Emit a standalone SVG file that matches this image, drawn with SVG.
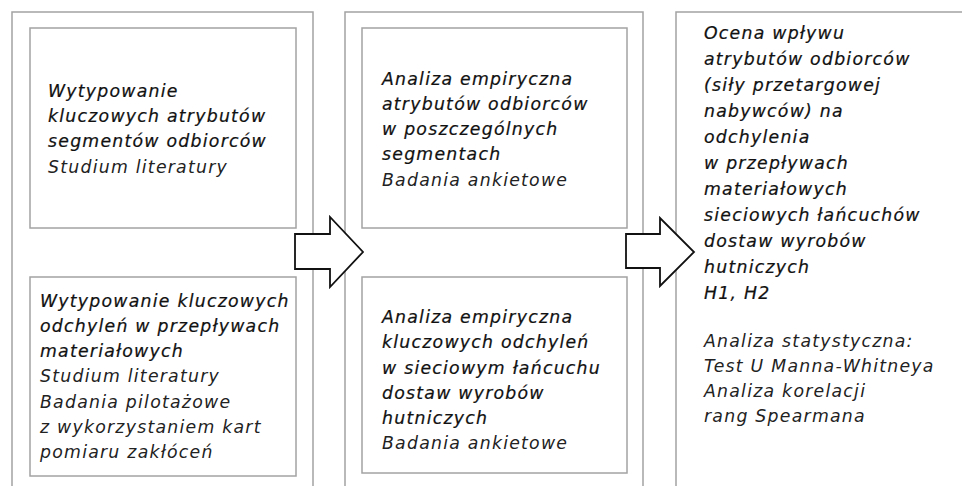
<svg xmlns="http://www.w3.org/2000/svg" width="962" height="486" viewBox="0 0 962 486">
<style>
.frame{fill:none;stroke:#a3a3a3;stroke-width:1.5}
.box{fill:#fff;stroke:#a3a3a3;stroke-width:1.5}
.arrow{fill:#fff;stroke:#111;stroke-width:1.8;stroke-linejoin:miter}
text{font-family:"DejaVu Sans","Liberation Sans",sans-serif;font-style:italic;font-size:17.3px;letter-spacing:1.25px}
.t{fill:#111;stroke:#111;stroke-width:0.22}
.s{fill:#222}
</style>
<rect width="962" height="486" fill="#fff"/>
<g id="columns">
<path class="frame" d="M12,490 V12 H313 V490"/>
<path class="frame" d="M345,490 V12 H643 V490"/>
<path class="frame" d="M676,490 V12 H970"/>
</g>
<g id="node-1">
<rect class="box" x="30" y="28" width="266" height="200"/>
<text x="48" y="96.7"><tspan class="t">Wytypowanie</tspan><tspan class="t" x="48" dy="25.3">kluczowych atrybutów</tspan><tspan class="t" x="48" dy="25.3">segmentów odbiorców</tspan><tspan class="s" x="48" dy="25.3">Studium literatury</tspan></text>
</g>
<g id="node-2">
<rect class="box" x="30" y="277" width="266" height="199"/>
<text x="40" y="306.7"><tspan class="t">Wytypowanie kluczowych</tspan><tspan class="t" x="40" dy="25.2">odchyleń w przepływach</tspan><tspan class="t" x="40" dy="25.2">materiałowych</tspan><tspan class="s" x="40" dy="25.2">Studium literatury</tspan><tspan class="s" x="40" dy="25.2">Badania pilotażowe</tspan><tspan class="s" x="40" dy="25.2">z wykorzystaniem kart</tspan><tspan class="s" x="40" dy="25.2">pomiaru zakłóceń</tspan></text>
</g>
<g id="node-3">
<rect class="box" x="362" y="28" width="265" height="200"/>
<text x="382" y="84.5"><tspan class="t">Analiza empiryczna</tspan><tspan class="t" x="382" dy="25.3">atrybutów odbiorców</tspan><tspan class="t" x="382" dy="25.3">w poszczególnych</tspan><tspan class="t" x="382" dy="25.3">segmentach</tspan><tspan class="s" x="382" dy="25.3">Badania ankietowe</tspan></text>
</g>
<g id="node-4">
<rect class="box" x="362" y="277" width="265" height="196"/>
<text x="382" y="323.3"><tspan class="t">Analiza empiryczna</tspan><tspan class="t" x="382" dy="25.1">kluczowych odchyleń</tspan><tspan class="t" x="382" dy="25.1">w sieciowym łańcuchu</tspan><tspan class="t" x="382" dy="25.1">dostaw wyrobów</tspan><tspan class="t" x="382" dy="25.1">hutniczych</tspan><tspan class="s" x="382" dy="25.1">Badania ankietowe</tspan></text>
</g>
<g id="node-5">
<text x="704" y="39"><tspan class="t">Ocena wpływu</tspan><tspan class="t" x="704" dy="26">atrybutów odbiorców</tspan><tspan class="t" x="704" dy="26">(siły przetargowej</tspan><tspan class="t" x="704" dy="26">nabywców)  na</tspan><tspan class="t" x="704" dy="26">odchylenia</tspan><tspan class="t" x="704" dy="26">w  przepływach</tspan><tspan class="t" x="704" dy="26">materiałowych</tspan><tspan class="t" x="704" dy="26">sieciowych łańcuchów</tspan><tspan class="t" x="704" dy="26">dostaw wyrobów</tspan><tspan class="t" x="704" dy="26">hutniczych</tspan><tspan class="t" x="704" dy="26">H1, H2</tspan></text>
<text x="704" y="346.5"><tspan class="s">Analiza statystyczna:</tspan><tspan class="s" x="704" dy="25">Test U Manna-Whitneya</tspan><tspan class="s" x="704" dy="25">Analiza korelacji</tspan><tspan class="s" x="704" dy="25">rang Spearmana</tspan></text>
</g>
<g id="connectors">
<polygon class="arrow" points="295,234 330,234 330,217 363,252 330,287 330,269 295,269"/>
<polygon class="arrow" points="626,234 660,234 660,218 694,252 660,286 660,268 626,268"/>
</g>
</svg>
